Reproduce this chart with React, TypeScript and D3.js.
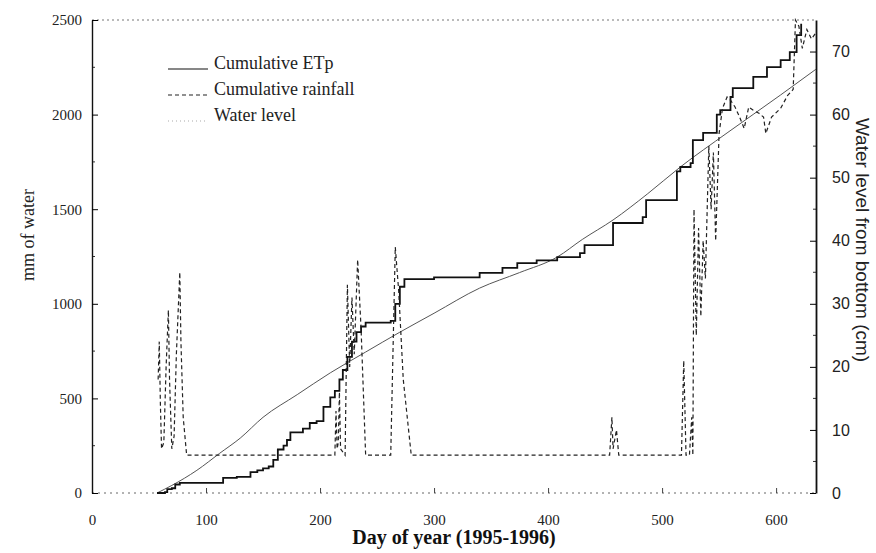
import React, { useEffect, useRef } from 'react'
import * as d3 from 'd3'

// cumulative ETp (mm)
const etpDays = [57, 70, 92, 112, 130, 150, 180, 209, 240, 270, 300, 340, 375, 408, 430, 457, 487, 516, 557, 604, 635]
const etpMm = [0, 40, 120, 210, 290, 400, 520, 635, 745, 850, 950, 1083, 1165, 1247, 1340, 1443, 1580, 1723, 1903, 2104, 2240]

// cumulative rainfall (mm)
const rainDays = [57, 64, 66, 70, 73, 77, 112, 115, 127, 139, 145, 150, 155, 159, 163, 168, 171, 174, 185, 191, 197, 203, 209,
  213, 217, 220, 224, 228, 232, 236, 240, 262, 266, 270, 274, 300, 340, 360, 373, 390, 408, 428, 432, 454, 457, 483, 486,
  504, 513, 516, 525, 527, 536, 548, 551, 560, 562, 580, 592, 604, 612, 618, 622]
const rainMm = [0, 5, 20, 25, 45, 53, 53, 80, 85, 110, 120, 130, 140, 175, 230, 250, 280, 320, 340, 370, 380, 455, 505,
  540, 600, 650, 720, 800, 850, 880, 900, 910, 1000, 1090, 1130, 1140, 1163, 1190, 1215, 1230, 1247, 1268, 1310, 1310, 1427, 1458, 1548,
  1548, 1700, 1723, 1744, 1865, 1903, 2000, 2024, 2093, 2140, 2199, 2251, 2288, 2330, 2420, 2480]

// water level from bottom (cm)
const levelDays = [58, 59, 60, 61, 63, 65, 67, 68, 70, 72, 74, 77, 78, 80, 83, 213, 214, 215, 216, 217, 218, 222, 224, 226, 228,
  230, 233, 236, 240, 262, 266, 269, 273, 280, 454, 456, 457, 460, 462, 517, 519, 521, 524, 526, 527, 528, 530, 532, 534, 536,
  538, 541, 543, 545, 547, 550, 553, 557, 560, 564, 568, 572, 576, 580, 585, 589, 591, 596, 604, 610, 615, 617, 620, 623, 627, 631, 635]
const levelCm = [18, 24, 14, 7, 8, 20, 29, 18, 7, 9, 22, 35, 24, 12, 6, 6, 13, 7, 8, 16, 7, 6, 33, 20, 31,
  22, 37, 26, 6, 6, 39, 32, 18, 6, 6, 12, 7, 10, 6, 6, 21, 6, 6, 12, 6, 45, 25, 42, 28, 40,
  34, 55, 45, 54, 40, 57, 61, 62.8, 62.3, 61.2, 59.6, 57.8, 61.2, 60.7, 60.2, 59.6, 57, 59.6, 61, 63, 64, 75, 74, 70.5, 73.5, 72, 73]

const dayTicks = [0, 100, 200, 300, 400, 500, 600]
const mmTicks = [0, 500, 1000, 1500, 2000, 2500]
const cmTicks = [0, 10, 20, 30, 40, 50, 60, 70]
const legendLabels = ['Cumulative ETp', 'Cumulative rainfall', 'Water level']

const serif = '"Liberation Serif", "DejaVu Serif", serif'
const sans = '"Liberation Sans", Arial, sans-serif'

export default function App() {
  const ref = useRef<SVGSVGElement>(null)

  useEffect(() => {
    const svg = d3.select(ref.current)
    svg.selectAll('*').remove()

    const left = 92, right = 816, top = 20, bottom = 493
    const x = d3.scaleLinear().domain([0, 635]).range([left, right])
    const y = d3.scaleLinear().domain([0, 2500]).range([bottom, top])
    const y2 = d3.scaleLinear().domain([0, 75]).range([bottom, top])

    // frame: top and bottom come out dotted in the scan
    svg.append('line').attr('x1', left).attr('x2', right).attr('y1', top).attr('y2', top)
      .attr('stroke', '#777').attr('stroke-width', 1).attr('stroke-dasharray', '2,3')
    svg.append('line').attr('x1', left).attr('x2', right).attr('y1', bottom).attr('y2', bottom)
      .attr('stroke', '#666').attr('stroke-width', 1).attr('stroke-dasharray', '2,4')

    // minor ticks
    const minorMm = d3.range(250, 2500, 500)
    svg.append('g').selectAll('line').data(minorMm).enter().append('line')
      .attr('x1', left).attr('x2', left + 3).attr('y1', d => y(d)).attr('y2', d => y(d))
      .attr('stroke', '#333')
    const minorCm = d3.range(5, 75, 10)
    svg.append('g').selectAll('line').data(minorCm).enter().append('line')
      .attr('x1', right).attr('x2', right - 3).attr('y1', d => y2(d)).attr('y2', d => y2(d))
      .attr('stroke', '#333')

    const gx = svg.append('g').attr('transform', `translate(0,${bottom})`)
      .call(d3.axisBottom(x).tickValues(dayTicks).tickFormat(d3.format('d')).tickSize(-5).tickSizeOuter(0).tickPadding(21))
    gx.select('.domain').remove()
    gx.selectAll('line').attr('stroke', '#444')
    gx.selectAll('text').style('font-family', serif).style('font-size', '15px').attr('fill', '#222')

    const gy = svg.append('g').attr('transform', `translate(${left},0)`)
      .call(d3.axisLeft(y).tickValues(mmTicks).tickFormat(d3.format('d')).tickSize(-6).tickSizeOuter(0).tickPadding(10))
    gy.select('.domain').attr('stroke', '#111').attr('stroke-width', 1.4)
    gy.selectAll('text').style('font-family', serif).style('font-size', '15px').attr('fill', '#222')

    const gy2 = svg.append('g').attr('transform', `translate(${right},0)`)
      .call(d3.axisRight(y2).tickValues(cmTicks).tickFormat(d3.format('d')).tickSize(-6).tickSizeOuter(0).tickPadding(16))
    gy2.select('.domain').attr('stroke', '#111').attr('stroke-width', 1.8)
    gy2.selectAll('text').style('font-family', sans).style('font-size', '16px').attr('fill', '#222')

    // series
    const etp = etpDays.map((d, i) => [d, etpMm[i]] as [number, number])
    const rain = rainDays.map((d, i) => [d, rainMm[i]] as [number, number])
    const level = levelDays.map((d, i) => [d, levelCm[i]] as [number, number])

    svg.append('path').datum(etp)
      .attr('d', d3.line<[number, number]>().x(d => x(d[0])).y(d => y(d[1])).curve(d3.curveMonotoneX))
      .attr('fill', 'none').attr('stroke', '#555').attr('stroke-width', 1)

    svg.append('path').datum(rain)
      .attr('d', d3.line<[number, number]>().x(d => x(d[0])).y(d => y(d[1])).curve(d3.curveStepAfter))
      .attr('fill', 'none').attr('stroke', '#111').attr('stroke-width', 1.8)

    svg.append('path').datum(level)
      .attr('d', d3.line<[number, number]>().x(d => x(d[0])).y(d => y2(d[1])))
      .attr('fill', 'none').attr('stroke', '#222').attr('stroke-width', 1.2).attr('stroke-dasharray', '4,3')

    // legend
    const legend = svg.append('g')
    const dash = [null, '4,3', '1,3']
    const colors = ['#111', '#222', '#aaa']
    legendLabels.forEach((label, i) => {
      const ly = 69 + i * 26
      legend.append('line').attr('x1', 168).attr('x2', 208).attr('y1', ly).attr('y2', ly)
        .attr('stroke', colors[i]).attr('stroke-width', 1.2)
        .attr('stroke-dasharray', dash[i])
      legend.append('text').attr('x', 214).attr('y', ly).style('font-family', serif).style('font-size', '18px')
        .attr('fill', '#222').text(label)
    })

    // axis titles
    svg.append('text').attr('transform', `translate(${(left + right) / 2},544)`)
      .attr('text-anchor', 'middle').style('font-family', serif).style('font-size', '20px').attr('font-weight', 'bold')
      .attr('fill', '#111').text('Day of year (1995-1996)')
    svg.append('text').attr('transform', 'translate(34,235) rotate(-90)')
      .attr('text-anchor', 'middle').style('font-family', serif).style('font-size', '18px')
      .attr('fill', '#222').text('mm of water')
    svg.append('text').attr('transform', 'translate(856,240) rotate(90)')
      .attr('text-anchor', 'middle').style('font-family', sans).style('font-size', '19px')
      .attr('fill', '#222').text('Water level from bottom (cm)')
  }, [])

  return (
    <svg ref={ref} width={876} height={553}
      style={{ position: 'absolute', left: 0, top: 0, background: '#fff' }} />
  )
}
